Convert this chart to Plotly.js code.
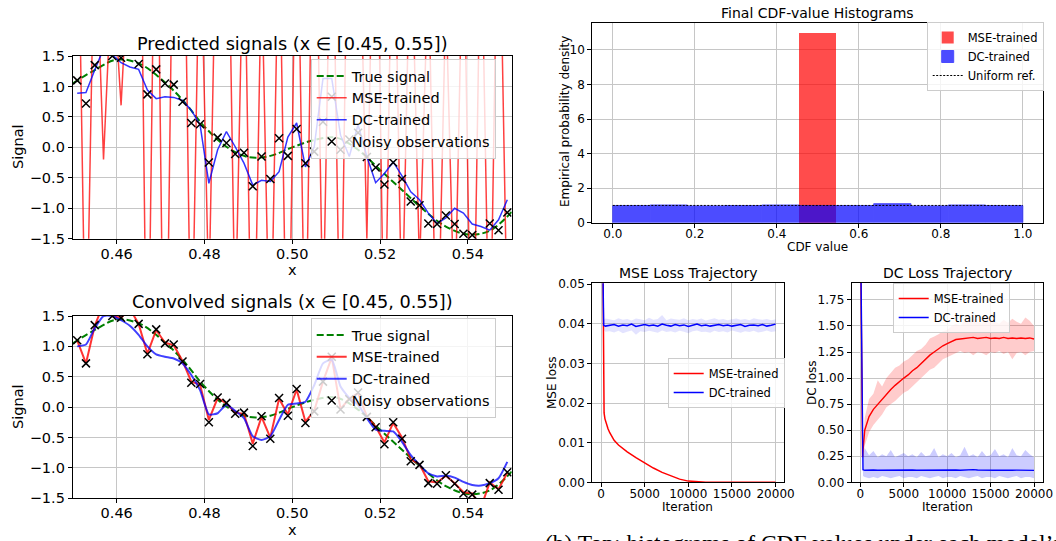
<!DOCTYPE html>
<html><head><meta charset="utf-8">
<script src="https://cdn.plot.ly/plotly-3.0.1.min.js"></script>
<style>html,body{margin:0;padding:0;background:#fff;overflow:hidden}#chart{width:1056px;height:541px}</style>
</head><body><div id="chart"></div><script>
// ---------- Signal panels ----------
const sigX = [0.451,0.453,0.455,0.457,0.459,0.461,0.463,0.465,0.467,0.469,0.471,0.473,0.475,0.477,0.479,0.481,0.483,0.485,0.487,0.489,0.491,0.493,0.495,0.497,0.499,0.501,0.503,0.505,0.507,0.509,0.511,0.513,0.515,0.517,0.519,0.521,0.523,0.525,0.527,0.529,0.531,0.533,0.535,0.537,0.539,0.541,0.543,0.545,0.547,0.549];
const noisyObs = [1.10,0.72,1.35,1.65,1.50,1.47,1.60,1.37,0.87,1.28,1.05,1.03,0.75,0.40,0.38,-0.25,0.16,0.07,-0.11,-0.09,-0.64,-0.15,-0.52,0.15,-0.14,0.30,-0.26,-0.07,0.42,0.83,-0.04,0.13,0.24,-0.16,-0.33,-0.61,-0.25,-0.52,-0.89,-0.95,-1.25,-1.26,-1.12,-1.26,-1.42,-1.44,-1.60,-1.25,-1.36,-1.07];
const predMSE = [5,-4,4,-0.2,3,0.69,3.5,7,-5,6,-6,5,6,-4,4,-2.5,5,6,-3,4,-5,3,-4,4,-5,5,-4,6,-3,5,-4,6,5,-1.5,6,-4,5,-3,4,-2,3,-4,2.5,-3,4,-5,4,-4,5,-3];
const predDC = [0.89,0.90,1.27,1.62,1.52,1.39,1.32,1.28,0.94,0.80,0.83,0.82,0.77,0.61,0.37,-0.59,-0.04,0.26,0.01,-0.26,-0.62,-0.54,-0.56,-0.40,0.17,0.40,-0.32,0.01,1.13,1.13,0.20,-0.15,0.37,-0.15,-0.58,-0.43,-0.24,-0.47,-0.73,-0.86,-1.08,-1.25,-1.16,-1.00,-1.08,-1.26,-1.30,-1.36,-1.19,-0.86];
const convMSE = [1.10,0.72,1.34,1.70,1.50,1.47,1.62,1.37,0.88,1.27,1.06,1.02,0.76,0.42,0.37,-0.21,0.15,0.06,-0.09,-0.11,-0.60,-0.16,-0.50,0.14,-0.12,0.29,-0.24,-0.06,0.42,0.82,-0.03,0.14,0.23,-0.15,-0.32,-0.58,-0.26,-0.50,-0.86,-0.94,-1.22,-1.24,-1.13,-1.25,-1.40,-1.42,-1.65,-1.24,-1.35,-1.08];
const convDC = [1.00,1.03,1.30,1.50,1.50,1.43,1.34,1.19,1.00,0.87,0.83,0.80,0.72,0.53,0.28,-0.12,-0.10,0.04,-0.06,-0.18,-0.48,-0.54,-0.48,-0.21,0.04,0.06,0.09,0.36,0.72,0.78,0.34,0.15,0.04,-0.18,-0.37,-0.39,-0.40,-0.57,-0.79,-0.95,-1.09,-1.14,-1.13,-1.16,-1.23,-1.28,-1.29,-1.25,-1.17,-0.90];
const trueX = [0.450,0.455,0.460,0.465,0.470,0.475,0.480,0.485,0.490,0.495,0.500,0.505,0.510,0.515,0.520,0.525,0.530,0.535,0.540,0.545,0.550];
const trueY = [1.05,1.27,1.44,1.38,1.13,0.78,0.34,0.01,-0.16,-0.14,0.00,0.12,0.16,-0.04,-0.37,-0.70,-1.03,-1.30,-1.43,-1.37,-1.06];
const sigXTicks = [0.46,0.48,0.50,0.52,0.54];
const sigXTickText = ['0.46','0.48','0.50','0.52','0.54'];
const sigYTicks = [-1.5,-1.0,-0.5,0.0,0.5,1.0,1.5];
const sigYTickText = ['\u22121.5','\u22121.0','\u22120.5','0.0','0.5','1.0','1.5'];

// ---------- Histogram ----------
const cdfBinCenters = [0.04545,0.13636,0.22727,0.31818,0.40909,0.5,0.59091,0.68182,0.77273,0.86364,0.95455];
const cdfBinWidth = 0.0909;
const mseDensity = [0,0,0,0,0,11.0,0,0,0,0,0];
const dcDensity = [0.99,1.02,0.97,0.99,1.02,0.99,0.99,1.10,0.97,1.02,0.99];
const uniformX = [0,1];
const uniformY = [1,1];
const histXTicks = [0,0.2,0.4,0.6,0.8,1.0];
const histXTickText = ['0.0','0.2','0.4','0.6','0.8','1.0'];
const histYTicks = [0,2,4,6,8,10];

// ---------- Loss trajectories ----------
const iterMseRed = [0,100,200,250,300,350,450,600,800,1000,1500,2000,2500,3000,4000,5000,6000,7000,8000,9000,10000,11000,12000,14000,16000,18000,20000];
const mseLossMseTrained = [0.12,0.09,0.05,0.03,0.021,0.0175,0.016,0.0148,0.0135,0.0125,0.0106,0.0094,0.0085,0.0077,0.0062,0.0048,0.0036,0.0025,0.0016,0.0008,0.0003,0.0001,0,0,0,0,0];
const iterGrid = [0,150,250,300,500,1000,1500,2000,2500,3000,3500,4000,4500,5000,5500,6000,6500,7000,7500,8000,8500,9000,9500,10000,10500,11000,11500,12000,12500,13000,13500,14000,14500,15000,15500,16000,16500,17000,17500,18000,18500,19000,19500,20000];
const mseLossDCTrained = [0.09,0.06,0.042,0.0396,0.0394,
 0.0396,0.0398,0.0394,0.0397,0.0395,0.0399,0.0393,0.0396,0.0398,0.0395,
 0.0397,0.0394,0.0399,0.0396,0.0394,0.0398,0.0395,0.0397,0.0393,0.0396,
 0.0399,0.0395,0.0397,0.0394,0.0396,0.0398,0.0395,0.0397,0.0394,0.0396,
 0.0398,0.0393,0.0396,0.0397,0.0395,0.0398,0.0394,0.0396,0.0399];
const dcLossMseTrained = [2.6,1.2,0.24,0.30,0.50,
 0.63,0.70,0.75,0.80,0.85,0.89,0.93,0.97,1.00,1.03,
 1.07,1.10,1.14,1.18,1.22,1.25,1.28,1.31,1.33,1.35,
 1.37,1.375,1.38,1.385,1.39,1.38,1.385,1.39,1.38,1.385,
 1.38,1.39,1.38,1.385,1.38,1.385,1.38,1.385,1.375];
const dcLossDCTrained = [2.6,1.0,0.2,0.12,0.115,
 0.120,0.118,0.116,0.117,0.115,0.118,0.116,0.117,0.115,0.116,
 0.118,0.116,0.117,0.115,0.116,0.118,0.117,0.115,0.116,0.117,
 0.118,0.116,0.119,0.117,0.122,0.118,0.116,0.117,0.118,0.116,
 0.117,0.115,0.118,0.116,0.117,0.118,0.116,0.115,0.114];
const bandIter = [300,500,1000,1500,2000,2500,3000,3500,4000,4500,5000,5500,6000,6500,7000,7500,8000,8500,9000,9500,10000,10500,11000,11500,12000,12500,13000,13500,14000,14500,15000,15500,16000,16500,17000,17500,18000,18500,19000,19500,20000];
const mseRawDCLow = [0.0385,0.0380,
 0.0381,0.0378,0.0382,0.0376,0.0380,0.0383,0.0372,0.0381,0.0379,0.0382,
 0.0380,0.0377,0.0383,0.0379,0.0381,0.0378,0.0382,0.0380,0.0376,0.0381,
 0.0383,0.0379,0.0380,0.0377,0.0382,0.0379,0.0381,0.0378,0.0383,0.0380,
 0.0377,0.0381,0.0379,0.0382,0.0378,0.0380,0.0383,0.0379,0.0381];
const mseRawDCHigh = [0.0410,0.0413,
 0.0411,0.0409,0.0414,0.0410,0.0412,0.0408,0.0413,0.0411,0.0409,0.0415,
 0.0410,0.0412,0.0422,0.0409,0.0413,0.0411,0.0410,0.0414,0.0409,0.0412,
 0.0410,0.0413,0.0408,0.0411,0.0414,0.0410,0.0412,0.0409,0.0411,0.0413,
 0.0410,0.0412,0.0409,0.0414,0.0411,0.0410,0.0412,0.0409,0.0411];
const dcRawMseLow = [0.20,0.35,
 0.48,0.55,0.60,0.65,0.72,0.75,0.78,0.82,0.86,0.88,
 0.92,0.96,1.00,1.04,1.08,1.10,1.14,1.18,1.20,1.22,
 1.24,1.26,1.24,1.25,1.22,1.25,1.24,1.22,1.25,1.24,
 1.26,1.23,1.25,1.18,1.24,1.25,1.22,1.25,1.26];
const dcRawMseHigh = [0.30,0.62,
 0.80,0.85,0.98,0.92,1.00,1.05,1.10,1.12,1.16,1.18,
 1.22,1.26,1.28,1.32,1.38,1.40,1.42,1.45,1.46,1.50,
 1.52,1.50,1.55,1.53,1.57,1.54,1.52,1.60,1.55,1.54,
 1.52,1.56,1.53,1.57,1.54,1.52,1.58,1.55,1.50];
const dcRawDCLow = [0.06,0.05,
 0.04,0.05,0.04,0.06,0.05,0.04,0.05,0.06,0.04,0.05,
 0.05,0.04,0.06,0.05,0.04,0.05,0.06,0.04,0.05,0.05,
 0.04,0.06,0.05,0.04,0.05,0.06,0.04,0.05,0.05,0.04,
 0.06,0.05,0.04,0.05,0.06,0.04,0.05,0.05,0.04];
const dcRawDCHigh = [0.25,0.33,
 0.26,0.30,0.24,0.27,0.25,0.31,0.24,0.26,0.28,0.25,
 0.27,0.24,0.29,0.25,0.26,0.33,0.24,0.27,0.25,0.28,
 0.24,0.26,0.34,0.25,0.27,0.24,0.30,0.25,0.26,0.32,
 0.25,0.27,0.24,0.33,0.26,0.25,0.31,0.27,0.24];
const iterTicks = [0,5000,10000,15000,20000];
const iterTickText = ['0','5000','10000','15000','20000'];
const mseYTicks = [0,0.01,0.02,0.03,0.04,0.05];
const mseYTickText = ['0.00','0.01','0.02','0.03','0.04','0.05'];
const dcYTicks = [0,0.25,0.5,0.75,1.0,1.25,1.5,1.75];
const dcYTickText = ['0.00','0.25','0.50','0.75','1.00','1.25','1.50','1.75'];

// ---------- helpers ----------
const W = 1056, H = 541;
const FONT = 'DejaVu Sans';
const px = v => v / W;
const py = v => 1 - v / H;
function axis(dom, range, tv, tt, fs, extra) {
  return Object.assign({
    domain: dom, range: range, tickvals: tv, ticktext: tt,
    showline: true, mirror: true, linecolor: 'black', linewidth: 1,
    ticks: 'outside', ticklen: 4, tickwidth: 1, tickcolor: 'black',
    showgrid: true, gridcolor: '#c6c6c6', gridwidth: 1, zeroline: false,
    tickfont: {family: FONT, size: fs, color: 'black'}, fixedrange: true
  }, extra || {});
}
function ann(text, x, y, size, extra) {
  return Object.assign({text: text, x: px(x), y: py(y), xref: 'paper', yref: 'paper',
    showarrow: false, xanchor: 'center', yanchor: 'middle',
    font: {family: FONT, size: size, color: 'black'}}, extra || {});
}
function legendBox(x, y, fs) {
  return {x: px(x), y: py(y), xanchor: 'left', yanchor: 'top', bgcolor: 'rgba(255,255,255,0.8)',
    bordercolor: '#cccccc', borderwidth: 1, font: {family: FONT, size: fs, color: 'black'},
    tracegroupgap: 0, traceorder: 'normal'};
}
// closed band polygon built from the lower and upper envelope arrays
function band(xs, lo, hi, xa, ya, color) {
  return {x: xs.concat(xs.slice().reverse()), y: lo.concat(hi.slice().reverse()), xaxis: xa, yaxis: ya,
    mode: 'lines', fill: 'toself', fillcolor: color, line: {width: 0, color: 'rgba(0,0,0,0)'},
    showlegend: false, hoverinfo: 'skip'};
}

const data = [];
// Panel 1: predicted signals
data.push({x: trueX, y: trueY, xaxis: 'x', yaxis: 'y', mode: 'lines', name: 'True signal', legend: 'legend',
  line: {color: 'green', width: 2, dash: '7px,3px', shape: 'spline'}});
data.push({x: sigX, y: predMSE, xaxis: 'x', yaxis: 'y', mode: 'lines', name: 'MSE-trained', legend: 'legend',
  line: {color: 'red', width: 1.5}, opacity: 0.75});
data.push({x: sigX, y: predDC, xaxis: 'x', yaxis: 'y', mode: 'lines', name: 'DC-trained', legend: 'legend',
  line: {color: 'blue', width: 1.5}, opacity: 0.8});
data.push({x: sigX, y: noisyObs, xaxis: 'x', yaxis: 'y', mode: 'markers', name: 'Noisy observations', legend: 'legend',
  marker: {symbol: 'x-thin', size: 8, color: 'black', line: {color: 'black', width: 1.5}}});
// Panel 2: convolved signals
data.push({x: trueX, y: trueY, xaxis: 'x2', yaxis: 'y2', mode: 'lines', name: 'True signal', legend: 'legend2',
  line: {color: 'green', width: 2, dash: '7px,3px', shape: 'spline'}});
data.push({x: sigX, y: convMSE, xaxis: 'x2', yaxis: 'y2', mode: 'lines', name: 'MSE-trained', legend: 'legend2',
  line: {color: 'red', width: 2}, opacity: 0.8});
data.push({x: sigX, y: convDC, xaxis: 'x2', yaxis: 'y2', mode: 'lines', name: 'DC-trained', legend: 'legend2',
  line: {color: 'blue', width: 2, shape: 'spline', smoothing: 0.5}, opacity: 0.75});
data.push({x: sigX, y: noisyObs, xaxis: 'x2', yaxis: 'y2', mode: 'markers', name: 'Noisy observations', legend: 'legend2',
  marker: {symbol: 'x-thin', size: 8, color: 'black', line: {color: 'black', width: 1.5}}});
// Panel 3: histogram
data.push({type: 'bar', x: cdfBinCenters, y: mseDensity, width: cdfBinWidth, xaxis: 'x3', yaxis: 'y3', name: 'MSE-trained',
  legend: 'legend3', marker: {color: 'red', line: {width: 0}}, opacity: 0.7});
data.push({type: 'bar', x: cdfBinCenters, y: dcDensity, width: cdfBinWidth, xaxis: 'x3', yaxis: 'y3', name: 'DC-trained',
  legend: 'legend3', marker: {color: 'blue', line: {color: 'blue', width: 1}}, opacity: 0.7});
data.push({x: uniformX, y: uniformY, xaxis: 'x3', yaxis: 'y3', mode: 'lines', name: 'Uniform ref.', legend: 'legend3',
  line: {color: 'black', width: 1, dash: '2px,1.5px'}});
// Panel 4: MSE loss
data.push(band(bandIter, mseRawDCLow, mseRawDCHigh, 'x4', 'y4', 'rgba(0,0,255,0.11)'));
data.push({x: iterMseRed, y: mseLossMseTrained, xaxis: 'x4', yaxis: 'y4', mode: 'lines', name: 'MSE-trained', legend: 'legend4',
  legendgroup: 'm4r', line: {color: '#ff0000', width: 1.5}});
data.push({x: iterGrid, y: mseLossDCTrained, xaxis: 'x4', yaxis: 'y4', mode: 'lines', name: 'DC-trained', legend: 'legend4',
  legendgroup: 'm4b', line: {color: '#0000ff', width: 1.5}});
// Panel 5: DC loss
data.push(band(bandIter, dcRawMseLow, dcRawMseHigh, 'x5', 'y5', 'rgba(255,0,0,0.2)'));
data.push(band(bandIter, dcRawDCLow, dcRawDCHigh, 'x5', 'y5', 'rgba(0,0,255,0.2)'));
data.push({x: iterGrid, y: dcLossMseTrained, xaxis: 'x5', yaxis: 'y5', mode: 'lines', name: 'MSE-trained', legend: 'legend5',
  line: {color: '#ff0000', width: 1.4}});
data.push({x: iterGrid, y: dcLossDCTrained, xaxis: 'x5', yaxis: 'y5', mode: 'lines', name: 'DC-trained', legend: 'legend5',
  line: {color: '#0000ff', width: 1.4}});

const sigXDom = [px(72.8), px(511.7)];
const RS = 12; // right-side tick font size
const layout = {
  width: W, height: H, margin: {l: 0, r: 0, t: 0, b: 0},
  paper_bgcolor: 'white', plot_bgcolor: 'white', showlegend: true, barmode: 'overlay', bargap: 0,
  font: {family: FONT, color: 'black'},
  xaxis: axis(sigXDom, [0.45, 0.55], sigXTicks, sigXTickText, 14.5, {anchor: 'y', ticklabelstandoff: -2}),
  yaxis: axis([py(238.7), py(56)], [-1.5, 1.5], sigYTicks, sigYTickText, 14.5, {anchor: 'x'}),
  xaxis2: axis(sigXDom, [0.45, 0.55], sigXTicks, sigXTickText, 14.5, {anchor: 'y2', ticklabelstandoff: -3}),
  yaxis2: axis([py(498.3), py(316)], [-1.5, 1.5], sigYTicks, sigYTickText, 14.5, {anchor: 'x2'}),
  xaxis3: axis([px(592.3), px(1043.3)], [-0.05, 1.05], histXTicks, histXTickText, RS, {anchor: 'y3', ticklabelstandoff: -4}),
  yaxis3: axis([py(222.7), py(22.7)], [0, 11.58], histYTicks, null, RS, {anchor: 'x3'}),
  xaxis4: axis([px(592.3), px(784.3)], [-1000, 21000], iterTicks, iterTickText, RS, {anchor: 'y4', ticklabelstandoff: -4}),
  yaxis4: axis([py(482.3), py(283.3)], [0, 0.0502], mseYTicks, mseYTickText, RS, {anchor: 'x4'}),
  xaxis5: axis([px(851.7), px(1042.7)], [-1000, 21000], iterTicks, iterTickText, RS, {anchor: 'y5', ticklabelstandoff: -4}),
  yaxis5: axis([py(482.3), py(282.7)], [0, 1.915], dcYTicks, dcYTickText, RS, {anchor: 'x5'}),
  legend: legendBox(310.7, 59, 14.5),
  legend2: legendBox(310.7, 318, 14.5),
  legend3: legendBox(926.7, 22, 11.5),
  legend4: legendBox(667.7, 358, 11.5),
  legend5: legendBox(892.7, 283, 11.5),
  annotations: [
    ann('Predicted signals (x \u2208 [0.45, 0.55])', 292, 44, 17.7),
    ann('Convolved signals (x \u2208 [0.45, 0.55])', 292, 302, 17.7),
    ann('Signal', 18, 147, 14.5, {textangle: -90}),
    ann('Signal', 18, 407, 14.5, {textangle: -90}),
    ann('x', 292, 270, 14.5),
    ann('x', 292, 530, 14.5),
    ann('Final CDF-value Histograms', 817, 13, 14),
    ann('Empirical probability density', 565, 122, 12, {textangle: -90}),
    ann('CDF value', 817, 247, 12),
    ann('MSE Loss Trajectory', 688, 273, 14),
    ann('DC Loss Trajectory', 947, 273, 14),
    ann('MSE loss', 552, 383, 12, {textangle: -90}),
    ann('DC loss', 812, 383, 12, {textangle: -90}),
    ann('Iteration', 687, 507, 12),
    ann('Iteration', 947, 507, 12),
    ann('(b) Top: histograms of CDF values under each model\u2019s predictions', 543, 528, 23.5,
        {xanchor: 'left', yanchor: 'top', font: {family: 'Liberation Serif', size: 23.5, color: 'black'}})
  ]
};
Plotly.newPlot('chart', data, layout, {displayModeBar: false, staticPlot: true});
</script></body></html>
